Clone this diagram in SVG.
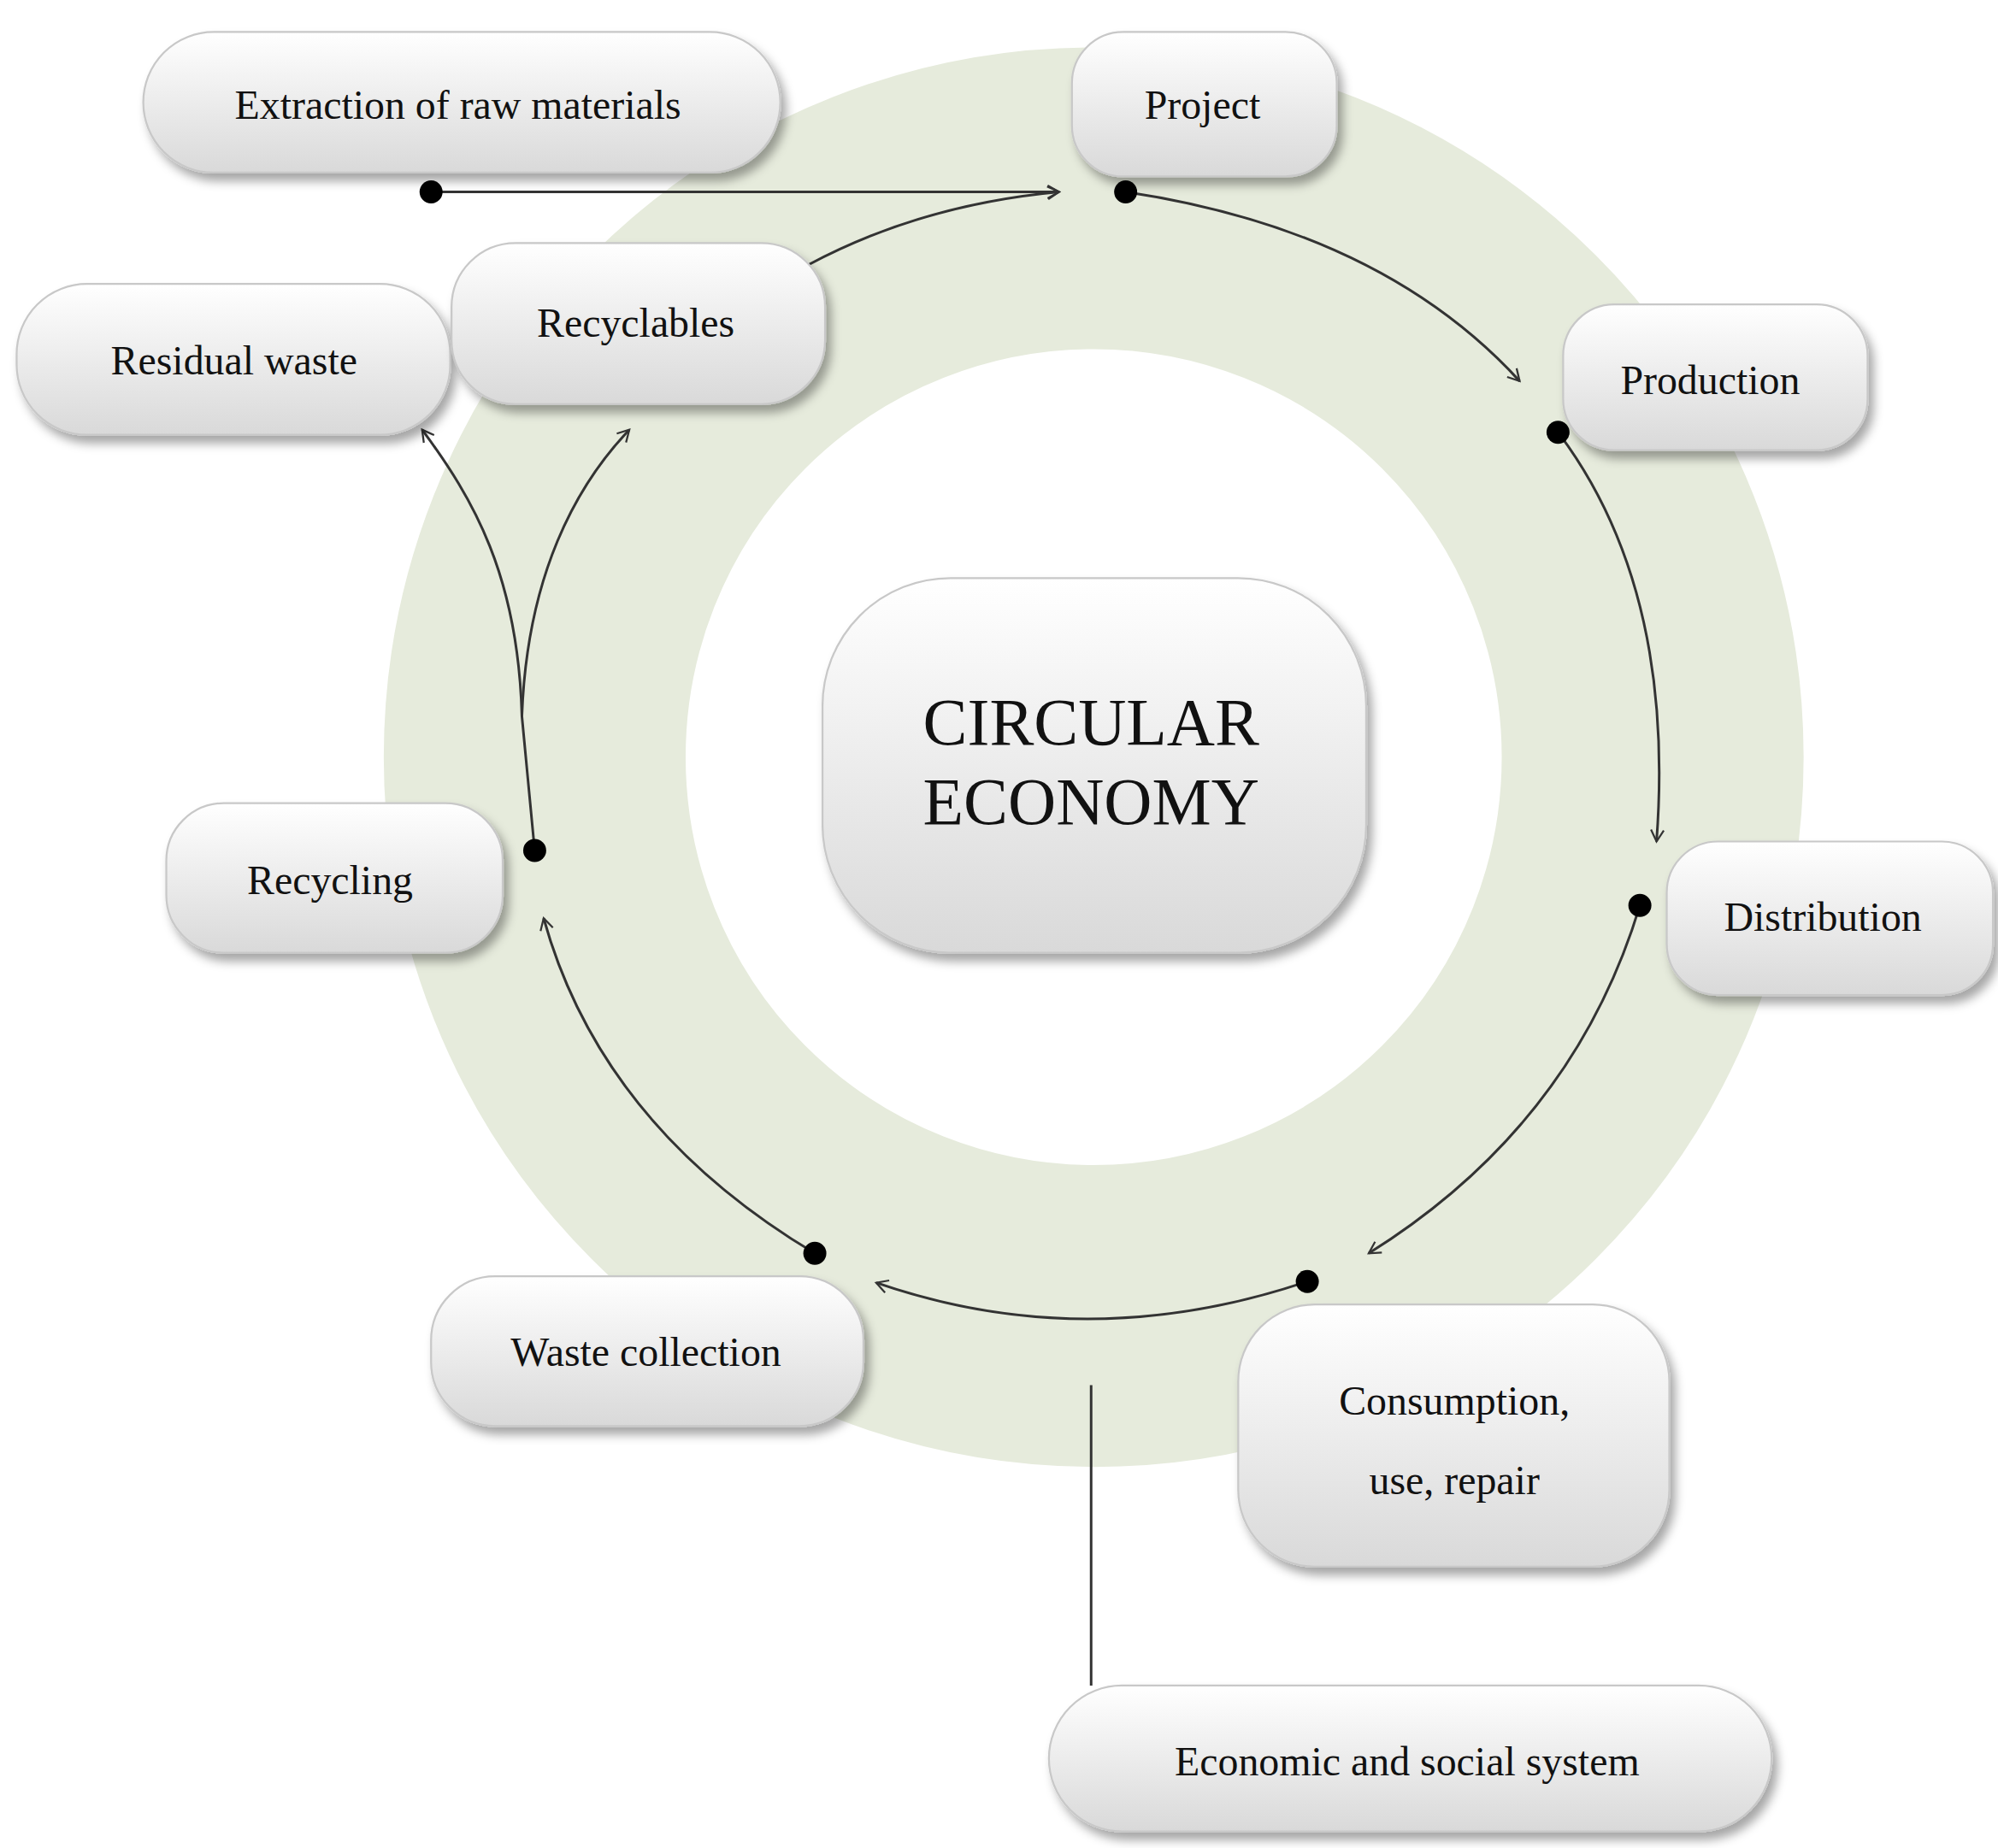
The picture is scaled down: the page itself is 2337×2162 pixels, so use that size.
<svg xmlns="http://www.w3.org/2000/svg" width="2337" height="2162" viewBox="0 0 2337 2162">
<defs>
<linearGradient id="g" x1="0" y1="0" x2="0" y2="1"><stop offset="0" stop-color="#ffffff"/><stop offset="1" stop-color="#d9d9d9"/></linearGradient>
<filter id="sh" x="-10%" y="-10%" width="130%" height="140%"><feDropShadow dx="4" dy="6" stdDeviation="4" flood-color="#000" flood-opacity="0.35"/></filter>
<marker id="ar" markerWidth="12" markerHeight="12" refX="10" refY="6" orient="auto" markerUnits="userSpaceOnUse"><path d="M1,1 L10,6 L1,11" fill="none" stroke="#333" stroke-width="1.5"/></marker>
<marker id="dot" markerWidth="20" markerHeight="20" refX="10" refY="10" markerUnits="userSpaceOnUse"><circle cx="10" cy="10" r="9" fill="#000"/></marker>
<style>
.n{fill:url(#g);stroke:#c8c8c8;stroke-width:1.5;filter:url(#sh)}
.t{font-family:"Liberation Serif",serif;font-size:32px;fill:#111;text-anchor:middle}
.c{fill:none;stroke:#333;stroke-width:2;marker-end:url(#ar)}
</style>
</defs>
<rect width="2337" height="2162" fill="#fff"/>
<g transform="scale(1.4962)">
<g id="ring"><circle cx="855" cy="592" r="437" fill="none" stroke="#e6ebdc" stroke-width="236"/></g>
<g id="connectors">
<path class="c" d="M337,150 L828,150" marker-start="url(#dot)"/>
<path class="c" d="M632,207 Q720,160 828,150"/>
<path class="c" d="M880,150 Q1080,180 1188,298" marker-start="url(#dot)"/>
<path class="c" d="M1218,338 Q1310,460 1295,658" marker-start="url(#dot)"/>
<path class="c" d="M1282,708 Q1230,880 1070,980" marker-start="url(#dot)"/>
<path class="c" d="M1022,1002 Q850,1060 685,1003" marker-start="url(#dot)"/>
<path class="c" d="M637,980 Q470,880 425,718" marker-start="url(#dot)"/>
<path class="c" d="M418,665 L408,560 C405,450 370,390 330,336" marker-start="url(#dot)"/>
<path class="c" d="M408,560 C412,450 450,380 492,336"/>
<path d="M853,1083 L853,1318" stroke="#333" stroke-width="2"/>
</g>
<g id="center"><rect class="n" x="643" y="452" width="425" height="293" rx="100"/><text class="t" style="font-size:52px" x="853" y="582">CIRCULAR</text><text class="t" style="font-size:52px" x="853" y="644">ECONOMY</text></g>
<g id="extraction"><rect class="n" x="112" y="25" width="498" height="110" rx="55"/><text class="t" x="358" y="93">Extraction  of raw materials</text></g>
<g id="project"><rect class="n" x="838" y="25" width="207" height="113" rx="40"/><text class="t" x="940" y="93">Project</text></g>
<g id="production"><rect class="n" x="1222" y="238" width="238" height="114" rx="40"/><text class="t" x="1337" y="308">Production</text></g>
<g id="distribution"><rect class="n" x="1303" y="658" width="255" height="120" rx="40"/><text class="t" x="1425" y="728">Distribution</text></g>
<g id="consumption"><rect class="n" x="968" y="1020" width="337" height="205" rx="60"/><text class="t" x="1137" y="1106">Consumption,</text><text class="t" x="1137" y="1168">use, repair</text></g>
<g id="economic"><rect class="n" x="820" y="1318" width="565" height="114" rx="57"/><text class="t" x="1100" y="1388">Economic and social system</text></g>
<g id="waste"><rect class="n" x="337" y="998" width="338" height="117" rx="50"/><text class="t" x="505" y="1068">Waste collection</text></g>
<g id="recycling"><rect class="n" x="130" y="628" width="263" height="117" rx="45"/><text class="t" x="258" y="699">Recycling</text></g>
<g id="residual"><rect class="n" x="13" y="222" width="339" height="118" rx="55"/><text class="t" x="183" y="293">Residual waste</text></g>
<g id="recyclables"><rect class="n" x="353" y="190" width="292" height="126" rx="50"/><text class="t" x="497" y="263">Recyclables</text></g>
</g>
</svg>
